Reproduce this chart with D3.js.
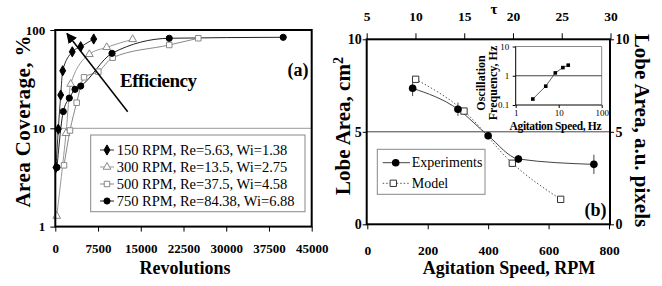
<!DOCTYPE html>
<html><head><meta charset="utf-8">
<script src="https://cdn.jsdelivr.net/npm/d3@7"></script>
<style>
body{margin:0;background:#fff}
svg{display:block}
</style></head>
<body><svg id="c" width="662" height="286"></svg>
<script>
// ---------- DATA ----------
const seriesNames = ["150 RPM, Re=5.63, Wi=1.38", "300 RPM, Re=13.5, Wi=2.75", "500 RPM, Re=37.5, Wi=4.58", "750 RPM, Re=84.38, Wi=6.88"];
const rev150 = [120, 527, 950, 1300, 2980, 4460, 6740];
const cov150 = [4, 9.8, 21.8, 38.5, 60, 67.6, 81];
const rev300 = [250, 1880, 2700, 5970, 9020, 13580];
const cov300 = [1.28, 8.9, 28.2, 56.6, 66.7, 80.4];
const rev500 = [1530, 2580, 3750, 5040, 7550, 10070, 20000, 25100];
const cov500 = [4.2, 9.5, 18.2, 33, 37.7, 52.3, 70.4, 82.4];
const rev750 = [300, 1400, 2460, 3460, 4460, 9950, 20000, 40000];
const cov750 = [4, 14.8, 20.3, 24.9, 26.9, 57.9, 82.4, 84.3];
const revTicks = [0, 7500, 15000, 22500, 30000, 37500, 45000];
const covTicks = [1, 10, 100];

const rpmExp = [150, 300, 400, 500, 750];
const areaExp = [7.35, 6.22, 4.79, 3.53, 3.24];
const errExp = [0.42, 0.36, 0.2, 0.22, 0.52];
const rpmModel = [160, 320, 480, 640];
const areaModel = [7.84, 6.12, 3.30, 1.35];
const rpmTicks = [0, 200, 400, 600, 800];
const areaTicks = [0, 5, 10];
const tauTicks = [5, 10, 15, 20, 25, 30];

const insetHz = [2.5, 5, 8.33, 12.5, 16.67];
const insetFreq = [0.16, 0.44, 1.25, 1.9, 2.3];
const insetXTicks = [1, 10, 100];
const insetYTicks = [0.1, 1, 10];
const insetYLabels = ["0.1", "1", "10"];

// ---------- SETUP ----------
const FONT = '"Liberation Serif","Times New Roman",serif';
const svg = d3.select("#c");
svg.append("rect").attr("width",662).attr("height",286).attr("fill","#fff");

function styleAxis(g, size, bold){
  g.attr("font-family",FONT).attr("font-size",size).attr("font-weight",bold?"bold":"normal");
  g.select(".domain").remove();
  g.selectAll(".tick line").attr("stroke","#000");
  g.selectAll(".tick text").attr("fill","#000");
}

// ---------- PANEL A ----------
const xA = d3.scaleLinear().domain([0,45000]).range([55.3,311.7]);
const yA = d3.scaleLog().domain([1,100]).range([226.6,30]);

svg.append("line").attr("x1",xA(0)).attr("x2",xA(45000)).attr("y1",yA(10)).attr("y2",yA(10))
  .attr("stroke","#999").attr("stroke-width",1);

const gxA = svg.append("g").attr("transform",`translate(0,${yA(1)})`)
  .call(d3.axisBottom(xA).tickValues(revTicks).tickFormat(d3.format("d")).tickSize(5).tickPadding(12));
styleAxis(gxA,13,true);
const gyA = svg.append("g").attr("transform",`translate(${xA(0)},0)`)
  .call(d3.axisLeft(yA).tickValues(covTicks).tickFormat(d3.format("d")).tickSize(5).tickPadding(5));
styleAxis(gyA,13,true);

const seriesA = [
  {x:rev150, y:cov150, sym:d3.symbolDiamond, size:30, fill:"#000", stroke:"#000", line:"#333"},
  {x:rev300, y:cov300, sym:d3.symbolTriangle, size:26, fill:"#fff", stroke:"#888", line:"#999"},
  {x:rev500, y:cov500, sym:d3.symbolSquare, size:30, fill:"#fff", stroke:"#888", line:"#888"},
  {x:rev750, y:cov750, sym:d3.symbolCircle, size:30, fill:"#000", stroke:"#000", line:"#222"}
];
const lineA = d3.line().x(d=>xA(d[0])).y(d=>yA(d[1])).curve(d3.curveMonotoneX);
seriesA.forEach(s=>{
  const pts = s.x.map((v,i)=>[v,s.y[i]]);
  svg.append("path").attr("d",lineA(pts)).attr("fill","none").attr("stroke",s.line).attr("stroke-width",1);
});
seriesA.forEach(s=>{
  const pts = s.x.map((v,i)=>[v,s.y[i]]);
  svg.append("g").selectAll("path").data(pts).join("path")
    .attr("transform",d=>`translate(${xA(d[0])},${yA(d[1])})`)
    .attr("d",d3.symbol().type(s.sym).size(s.size))
    .attr("fill",s.fill).attr("stroke",s.stroke).attr("stroke-width",1);
});

// frame A
svg.append("rect").attr("x",xA(0)).attr("y",yA(100)).attr("width",xA(45000)-xA(0)).attr("height",yA(1)-yA(100))
  .attr("fill","none").attr("stroke","#000").attr("stroke-width",2);

// legend A
const legA = svg.append("g");
legA.append("rect").attr("x",90.7).attr("y",135).attr("width",214.3).attr("height",76.7)
  .attr("fill","#fff").attr("stroke","#888").attr("stroke-width",1);
seriesA.forEach((s,i)=>{
  const cy = 150 + i*17;
  legA.append("line").attr("x1",100).attr("x2",114).attr("y1",cy).attr("y2",cy).attr("stroke",s.line).attr("stroke-width",1);
  legA.append("path").attr("transform",`translate(107,${cy})`).attr("d",d3.symbol().type(s.sym).size(s.size))
    .attr("fill",s.fill).attr("stroke",s.stroke);
  legA.append("text").attr("x",116.7).attr("y",cy).attr("dy","0.34em").attr("font-family",FONT)
    .attr("font-size",14.5).text(seriesNames[i]);
});

// arrow + Efficiency
svg.append("defs").append("marker").attr("id","ah").attr("viewBox","0 0 10 10").attr("refX",9).attr("refY",5)
  .attr("markerWidth",7).attr("markerHeight",7).attr("orient","auto-start-reverse")
  .append("path").attr("d","M0,0L10,5L0,10z").attr("fill","#000");
svg.append("line").attr("x1",127.7).attr("y1",111.7).attr("x2",67).attr("y2",33.5)
  .attr("stroke","#000").attr("stroke-width",1.5).attr("marker-end","url(#ah)");
svg.append("text").attr("x",120).attr("y",87.3).attr("font-family",FONT).attr("font-size",19)
  .attr("font-weight","bold").attr("textLength",77).text("Efficiency");
svg.append("text").attr("x",308.5).attr("y",75.5).attr("text-anchor","end").attr("font-family",FONT)
  .attr("font-size",18).attr("font-weight","bold").text("(a)");

// titles A
svg.append("text").attr("x",185).attr("y",274).attr("text-anchor","middle").attr("font-family",FONT)
  .attr("font-size",18).attr("font-weight","bold").text("Revolutions");
svg.append("text").attr("transform","translate(23,121.5) rotate(-90)").attr("text-anchor","middle")
  .attr("dy","0.35em").attr("font-family",FONT).attr("font-size",21).attr("font-weight","bold")
  .attr("textLength",172).text("Area Coverage, %");

// ---------- PANEL B ----------
const xB = d3.scaleLinear().domain([0,800]).range([367.3,609]);
const yB = d3.scaleLinear().domain([0,10]).range([224.3,39.3]);
const tB = d3.scaleLinear().domain([5,30]).range([366.7,610.5]);

svg.append("line").attr("x1",366.7).attr("x2",610).attr("y1",yB(5)).attr("y2",yB(5))
  .attr("stroke","#444").attr("stroke-width",1);

const gxB = svg.append("g").attr("transform",`translate(0,${yB(0)})`)
  .call(d3.axisBottom(xB).tickValues(rpmTicks).tickFormat(d3.format("d")).tickSize(5).tickPadding(16));
styleAxis(gxB,13.5,true);
const gtB = svg.append("g").attr("transform",`translate(0,${yB(10)})`)
  .call(d3.axisTop(tB).tickValues(tauTicks).tickFormat(d3.format("d")).tickSize(6).tickPadding(12));
styleAxis(gtB,13.5,true);
const gyB = svg.append("g").attr("transform",`translate(366.7,0)`)
  .call(d3.axisLeft(yB).tickValues(areaTicks).tickFormat(d3.format("d")).tickSize(4).tickPadding(1));
styleAxis(gyB,14,true);
const gy2B = svg.append("g").attr("transform",`translate(610,0)`)
  .call(d3.axisRight(yB).tickValues(areaTicks).tickFormat(d3.format("d")).tickSize(4).tickPadding(1.5));
styleAxis(gy2B,14,true);

// model line
const lineB = d3.line().x(d=>xB(d[0])).y(d=>yB(d[1])).curve(d3.curveMonotoneX);
const modelPts = rpmModel.map((v,i)=>[v,areaModel[i]]);
const expPts = rpmExp.map((v,i)=>[v,areaExp[i],errExp[i]]);
svg.append("path").attr("d",lineB(modelPts)).attr("fill","none").attr("stroke","#555")
  .attr("stroke-width",1).attr("stroke-dasharray","1.5,2");
svg.append("path").attr("d",lineB(expPts)).attr("fill","none").attr("stroke","#444").attr("stroke-width",1);
svg.append("g").selectAll("line").data(expPts).join("line")
  .attr("x1",d=>xB(d[0])).attr("x2",d=>xB(d[0])).attr("y1",d=>yB(d[1]-d[2])).attr("y2",d=>yB(d[1]+d[2]))
  .attr("stroke","#444").attr("stroke-width",1);
svg.append("g").selectAll("path").data(modelPts).join("path")
  .attr("transform",d=>`translate(${xB(d[0])},${yB(d[1])})`)
  .attr("d",d3.symbol().type(d3.symbolSquare).size(40)).attr("fill","#fff").attr("stroke","#333");
svg.append("g").selectAll("circle").data(expPts).join("circle")
  .attr("cx",d=>xB(d[0])).attr("cy",d=>yB(d[1])).attr("r",3.8).attr("fill","#000");

// frame B
svg.append("rect").attr("x",366.7).attr("y",yB(10)).attr("width",610-366.7).attr("height",yB(0)-yB(10))
  .attr("fill","none").attr("stroke","#000").attr("stroke-width",2);

// legend B
const legB = svg.append("g");
legB.append("rect").attr("x",377.3).attr("y",149.3).attr("width",107.7).attr("height",45)
  .attr("fill","#fff").attr("stroke","#888").attr("stroke-width",1);
legB.append("line").attr("x1",382.7).attr("x2",410).attr("y1",162.7).attr("y2",162.7).attr("stroke","#444");
legB.append("circle").attr("cx",395.7).attr("cy",162.7).attr("r",3.8).attr("fill","#000");
legB.append("text").attr("x",411.7).attr("y",162.7).attr("dy","0.34em").attr("font-family",FONT)
  .attr("font-size",14).text("Experiments");
legB.append("line").attr("x1",382.7).attr("x2",410).attr("y1",183.3).attr("y2",183.3).attr("stroke","#555")
  .attr("stroke-dasharray","1.5,2");
legB.append("path").attr("transform","translate(393.3,183.3)").attr("d",d3.symbol().type(d3.symbolSquare).size(40))
  .attr("fill","#fff").attr("stroke","#333");
legB.append("text").attr("x",411.7).attr("y",183.3).attr("dy","0.34em").attr("font-family",FONT)
  .attr("font-size",14).text("Model");

svg.append("text").attr("x",606.5).attr("y",215.5).attr("text-anchor","end").attr("font-family",FONT)
  .attr("font-size",18).attr("font-weight","bold").text("(b)");

// titles B
svg.append("text").attr("x",509).attr("y",274).attr("text-anchor","middle").attr("font-family",FONT)
  .attr("font-size",18).attr("font-weight","bold").text("Agitation Speed, RPM");
svg.append("text").attr("x",494).attr("y",13.5).attr("text-anchor","middle").attr("font-family",FONT)
  .attr("font-size",15).attr("font-weight","bold").text("τ");
const tl = svg.append("text").attr("transform","translate(342.5,126) rotate(-90)").attr("text-anchor","middle")
  .attr("dy","0.35em").attr("font-family",FONT).attr("font-size",21).attr("font-weight","bold");
tl.append("tspan").text("Lobe Area, cm");
tl.append("tspan").attr("font-size",14).attr("baseline-shift","super").text("2");
svg.append("text").attr("transform","translate(642.5,130.5) rotate(90)").attr("text-anchor","middle")
  .attr("dy","0.35em").attr("font-family",FONT).attr("font-size",21).attr("font-weight","bold")
  .text("Lobe Area, a.u. pixels");

// ---------- INSET ----------
const xI = d3.scaleLog().domain([1,100]).range([515.7,601.7]);
const yI = d3.scaleLog().domain([0.1,10]).range([105,46.5]);
svg.append("line").attr("x1",xI(1)).attr("x2",xI(100)).attr("y1",yI(10)).attr("y2",yI(10)).attr("stroke","#888");
svg.append("line").attr("x1",xI(100)).attr("x2",xI(100)).attr("y1",yI(10)).attr("y2",yI(0.1)).attr("stroke","#888");
svg.append("line").attr("x1",xI(1)).attr("x2",xI(100)).attr("y1",yI(1)).attr("y2",yI(1)).attr("stroke","#444");
svg.append("line").attr("x1",xI(1)).attr("x2",xI(1)).attr("y1",yI(10)).attr("y2",yI(0.1)).attr("stroke","#000");
svg.append("line").attr("x1",xI(1)).attr("x2",xI(100)).attr("y1",yI(0.1)).attr("y2",yI(0.1)).attr("stroke","#000");
const gxI = svg.append("g").attr("transform",`translate(0,${yI(0.1)})`)
  .call(d3.axisBottom(xI).tickValues(insetXTicks).tickFormat(d3.format("d")).tickSize(3).tickPadding(1.5));
styleAxis(gxI,9,false);
const gyI = svg.append("g").attr("transform",`translate(${xI(1)},0)`)
  .call(d3.axisLeft(yI).tickValues(insetYTicks).tickFormat((d,i)=>insetYLabels[i]).tickSize(3).tickPadding(3.5));
styleAxis(gyI,9,false);
const inPts = insetHz.map((v,i)=>[v,insetFreq[i]]);
svg.append("path").attr("d",d3.line().x(d=>xI(d[0])).y(d=>yI(d[1]))(inPts)).attr("fill","none")
  .attr("stroke","#333").attr("stroke-width",0.8);
svg.append("g").selectAll("rect").data(inPts).join("rect")
  .attr("x",d=>xI(d[0])-1.8).attr("y",d=>yI(d[1])-1.8).attr("width",3.6).attr("height",3.6).attr("fill","#000");
svg.append("text").attr("transform","translate(481,83) rotate(-90)").attr("text-anchor","middle")
  .attr("dy","0.35em").attr("font-family",FONT).attr("font-size",12).attr("font-weight","bold").text("Oscillation");
svg.append("text").attr("transform","translate(493,83) rotate(-90)").attr("text-anchor","middle")
  .attr("dy","0.35em").attr("font-family",FONT).attr("font-size",12).attr("font-weight","bold").text("Frequency, Hz");
svg.append("text").attr("x",555.5).attr("y",129.8).attr("text-anchor","middle").attr("font-family",FONT)
  .attr("font-size",11.5).attr("font-weight","bold").attr("textLength",92).text("Agitation Speed, Hz");
</script></body></html>
